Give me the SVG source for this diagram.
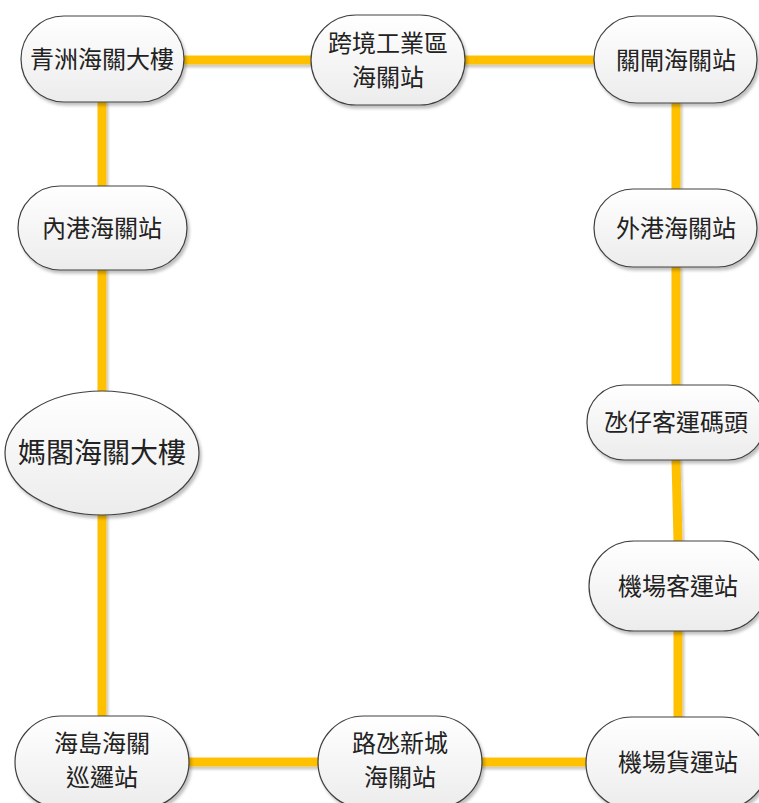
<svg xmlns="http://www.w3.org/2000/svg" width="759" height="803" viewBox="0 0 759 803">
<defs>
<linearGradient id="g" x1="0" y1="0" x2="0" y2="1">
<stop offset="0" stop-color="#ffffff"/>
<stop offset="1" stop-color="#ececec"/>
</linearGradient>
<filter id="sh" x="-20%" y="-20%" width="140%" height="140%">
<feDropShadow dx="2" dy="3" stdDeviation="1.5" flood-color="#000" flood-opacity="0.25"/>
</filter>
<filter id="lsh" filterUnits="userSpaceOnUse" x="0" y="0" width="759" height="803">
<feDropShadow dx="2" dy="3" stdDeviation="1.2" flood-color="#000" flood-opacity="0.2"/>
</filter>
</defs>
<style>
.n{fill:url(#g);stroke:#404040;stroke-width:1.2;filter:url(#sh)}
.t{font-family:"Noto Sans CJK TC","Noto Sans CJK SC",sans-serif;font-size:24px;fill:#222;text-anchor:middle}
.c{stroke:#FFC000;stroke-width:9;fill:none;stroke-linecap:round}
</style>
<rect width="759" height="803" fill="#fff"/>
<g id="connectors" filter="url(#lsh)">
<line class="c" x1="184" y1="60" x2="311" y2="60"/>
<line class="c" x1="465" y1="60" x2="594" y2="60"/>
<line class="c" x1="676" y1="103" x2="676" y2="189"/>
<line class="c" x1="676" y1="268" x2="676" y2="385"/>
<line class="c" x1="676" y1="460" x2="678" y2="541"/>
<line class="c" x1="678" y1="631" x2="678" y2="718"/>
<line class="c" x1="482" y1="762" x2="586" y2="762"/>
<line class="c" x1="189" y1="762" x2="318" y2="762"/>
<line class="c" x1="102" y1="515" x2="102" y2="716"/>
<line class="c" x1="102" y1="270" x2="102" y2="391"/>
<line class="c" x1="102" y1="102" x2="102" y2="186"/>
</g>
<g id="n1"><rect class="n" x="21" y="16" width="163" height="86" rx="43"/><text class="t" x="102" y="68">青洲海關大樓</text></g>
<g id="n2"><rect class="n" x="311" y="15" width="154" height="90" rx="45"/><text class="t" x="388" y="52">跨境工業區</text><text class="t" x="388" y="86">海關站</text></g>
<g id="n3"><rect class="n" x="594" y="16" width="163" height="87" rx="43"/><text class="t" x="676" y="69">關閘海關站</text></g>
<g id="n4"><rect class="n" x="18" y="186" width="169" height="84" rx="42"/><text class="t" x="102" y="237">內港海關站</text></g>
<g id="n5"><rect class="n" x="594" y="189" width="163" height="78" rx="39"/><text class="t" x="676" y="237">外港海關站</text></g>
<g id="n6"><rect class="n" x="587" y="385" width="178" height="75" rx="37"/><text class="t" x="676" y="431">氹仔客運碼頭</text></g>
<g id="n7"><ellipse class="n" cx="102" cy="453" rx="97" ry="62"/><text class="t" x="102" y="463" style="font-size:28px">媽閣海關大樓</text></g>
<g id="n8"><rect class="n" x="589" y="541" width="178" height="90" rx="45"/><text class="t" x="678" y="595">機場客運站</text></g>
<g id="n9"><rect class="n" x="15" y="716" width="174" height="92" rx="46"/><text class="t" x="102" y="752">海島海關</text><text class="t" x="102" y="786">巡邏站</text></g>
<g id="n10"><rect class="n" x="318" y="716" width="164" height="92" rx="46"/><text class="t" x="400" y="752">路氹新城</text><text class="t" x="400" y="786">海關站</text></g>
<g id="n11"><rect class="n" x="586" y="717" width="182" height="92" rx="46"/><text class="t" x="678" y="771">機場貨運站</text></g>
</svg>
